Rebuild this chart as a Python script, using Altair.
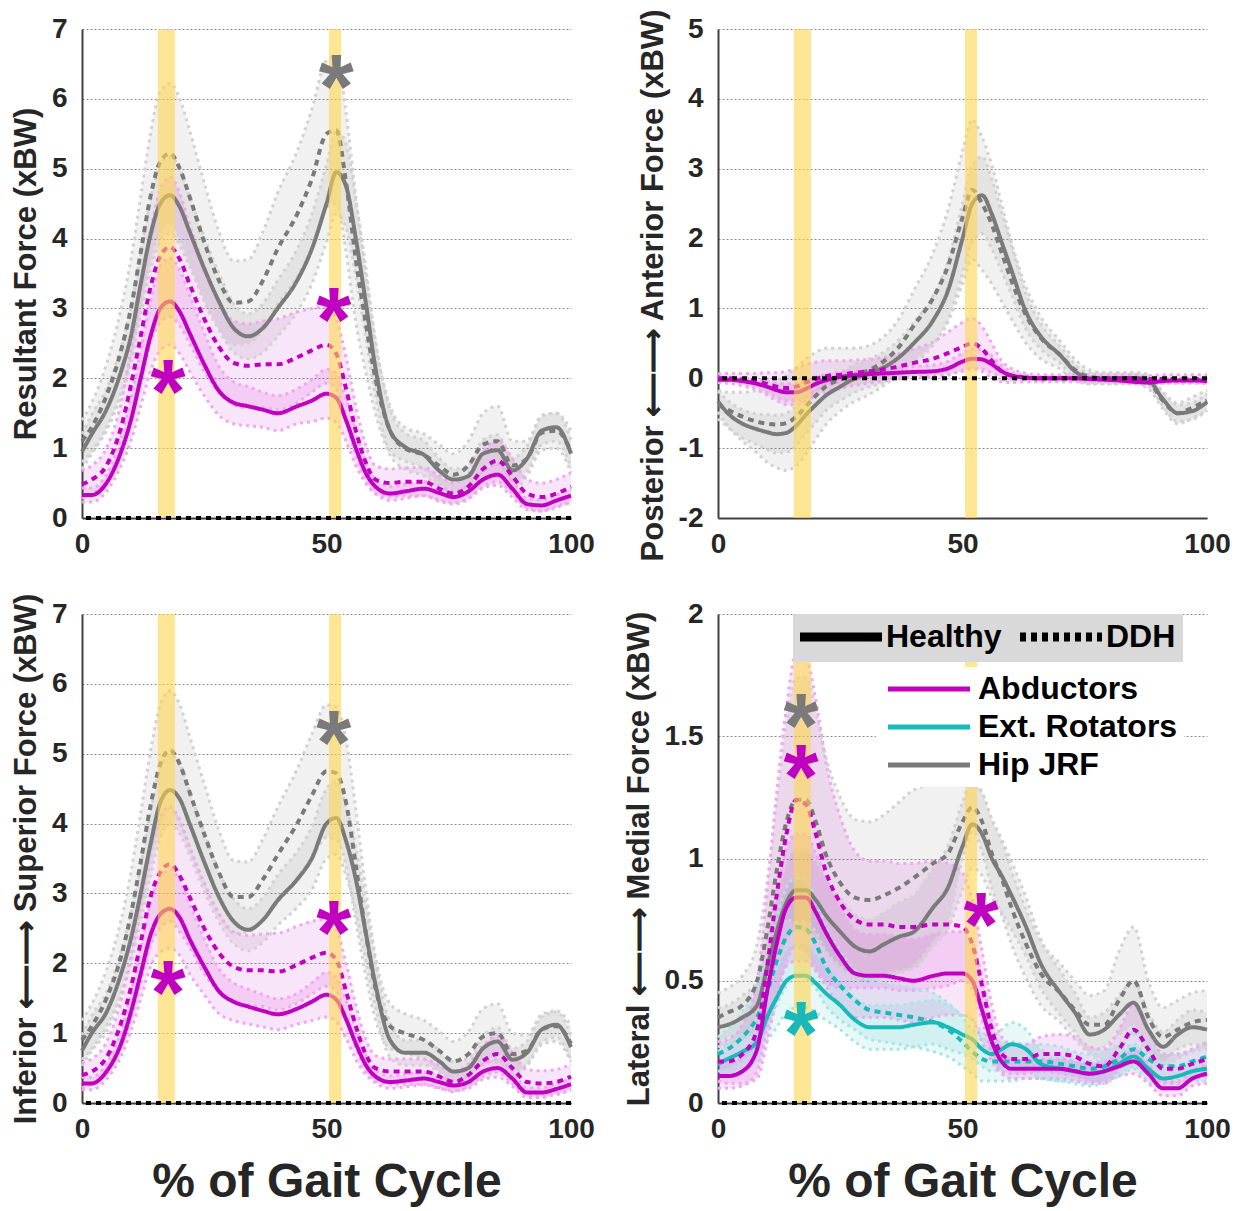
import altair as alt
import pandas as pd

FONT = "Liberation Sans"

# common % gait-cycle grid
X = [0, 2, 5, 8, 10, 12, 14, 16, 18, 20, 22, 25, 28, 31, 34, 37, 40, 44, 47, 50,
     52, 54, 56, 58, 60, 63, 66, 70, 73, 76, 79, 82, 85, 88, 91, 94, 97, 100]

MUSCLES = ["Abductors", "Ext. Rotators", "Hip JRF"]
GROUPS = ["Healthy", "DDH"]
COLORS = ["#C000C0", "#19B9B9", "#7A7A7A"]
LIGHT = ["#F0A8F0", "#A8E6E6", "#D2D2D2"]

# ---------------- Resultant ----------------
RES_HIP_H = [0.95, 1.2, 1.55, 2.1, 2.6, 3.35, 4.05, 4.5, 4.62, 4.45, 4.1, 3.57, 3.1, 2.72, 2.6, 2.72, 3.0, 3.4, 3.85, 4.5,
             4.95, 4.75, 4.0, 3.1, 2.15, 1.25, 1.02, 0.9, 0.68, 0.55, 0.6, 0.92, 0.97, 0.68, 0.85, 1.25, 1.3, 0.92]
RES_HIP_D = [1.1, 1.3, 1.75, 2.4, 3.0, 3.8, 4.6, 5.1, 5.22, 5.0, 4.6, 3.95, 3.4, 3.08, 3.1, 3.4, 3.85, 4.35, 4.85, 5.5,
             5.55, 4.8, 3.7, 2.8, 2.0, 1.25, 1.0, 0.9, 0.75, 0.62, 0.75, 1.05, 1.1, 0.75, 0.85, 1.22, 1.25, 0.95]
RES_ABD_H = [0.33, 0.33, 0.5, 0.95, 1.4, 2.0, 2.6, 3.0, 3.1, 2.95, 2.65, 2.2, 1.82, 1.65, 1.6, 1.55, 1.5, 1.6, 1.68, 1.78,
             1.72, 1.4, 1.0, 0.65, 0.45, 0.35, 0.38, 0.42, 0.36, 0.3, 0.38, 0.55, 0.62, 0.42, 0.2, 0.18, 0.25, 0.32]
RES_ABD_D = [0.48, 0.55, 0.75, 1.3, 1.9, 2.6, 3.3, 3.75, 3.88, 3.7, 3.35, 2.85, 2.45, 2.22, 2.18, 2.2, 2.2, 2.3, 2.4, 2.48,
             2.35, 1.85, 1.25, 0.8, 0.55, 0.5, 0.52, 0.52, 0.42, 0.35, 0.45, 0.7, 0.82, 0.6, 0.35, 0.3, 0.35, 0.45]
RES_HIP_H_SD = [0.25, 0.28, 0.3, 0.35, 0.4, 0.45, 0.5, 0.55, 0.55, 0.55, 0.5, 0.45, 0.4, 0.35, 0.32, 0.35, 0.4, 0.45, 0.5, 0.55,
                0.6, 0.6, 0.55, 0.5, 0.4, 0.3, 0.2, 0.2, 0.18, 0.15, 0.15, 0.2, 0.22, 0.18, 0.18, 0.2, 0.2, 0.2]
RES_HIP_D_SD = [0.3, 0.35, 0.45, 0.6, 0.7, 0.8, 0.9, 1.0, 1.0, 1.0, 0.95, 0.85, 0.7, 0.6, 0.6, 0.7, 0.8, 0.9, 1.0, 1.05,
                1.05, 1.0, 0.9, 0.7, 0.5, 0.35, 0.3, 0.3, 0.3, 0.3, 0.35, 0.45, 0.5, 0.35, 0.25, 0.25, 0.25, 0.3]
RES_ABD_H_SD = [0.1, 0.1, 0.12, 0.2, 0.3, 0.4, 0.5, 0.6, 0.62, 0.6, 0.55, 0.45, 0.35, 0.3, 0.28, 0.25, 0.25, 0.25, 0.3, 0.35,
                0.35, 0.3, 0.25, 0.15, 0.1, 0.1, 0.1, 0.1, 0.1, 0.08, 0.1, 0.12, 0.15, 0.12, 0.08, 0.08, 0.08, 0.1]
RES_ABD_D_SD = [0.2, 0.2, 0.25, 0.35, 0.5, 0.65, 0.8, 0.95, 1.0, 0.95, 0.85, 0.75, 0.65, 0.6, 0.6, 0.62, 0.65, 0.65, 0.6, 0.55,
                0.5, 0.45, 0.35, 0.25, 0.2, 0.2, 0.2, 0.2, 0.18, 0.15, 0.18, 0.25, 0.3, 0.25, 0.2, 0.2, 0.2, 0.2]

# ---------------- Posterior / Anterior ----------------
AP_HIP_H = [-0.33, -0.5, -0.65, -0.73, -0.77, -0.8, -0.78, -0.68, -0.52, -0.38, -0.25, -0.12, 0.0, 0.08, 0.16, 0.3, 0.5, 0.83, 1.25, 2.0,
            2.5, 2.62, 2.35, 1.95, 1.55, 0.95, 0.6, 0.33, 0.1, 0.0, 0.0, 0.0, 0.0, -0.03, -0.3, -0.5, -0.47, -0.34]
AP_HIP_D = [-0.38, -0.45, -0.55, -0.62, -0.65, -0.66, -0.64, -0.55, -0.4, -0.25, -0.12, -0.02, 0.05, 0.12, 0.25, 0.45, 0.75, 1.15, 1.6, 2.3,
            2.7, 2.5, 2.2, 1.8, 1.4, 0.9, 0.58, 0.33, 0.12, 0.02, 0.0, 0.0, 0.0, -0.05, -0.32, -0.5, -0.42, -0.32]
AP_ABD_H = [-0.02, -0.02, -0.04, -0.08, -0.12, -0.17, -0.2, -0.2, -0.15, -0.08, -0.03, 0.02, 0.04, 0.06, 0.07, 0.08, 0.09, 0.1, 0.14, 0.24,
            0.28, 0.27, 0.2, 0.1, 0.04, 0.01, 0.0, 0.0, 0.0, -0.01, -0.02, -0.03, -0.05, -0.06, -0.04, -0.03, -0.03, -0.04]
AP_ABD_D = [0.0, 0.0, -0.02, -0.05, -0.08, -0.12, -0.14, -0.12, -0.06, -0.01, 0.03, 0.05, 0.08, 0.1, 0.13, 0.17, 0.22, 0.28, 0.36, 0.45,
            0.5, 0.42, 0.25, 0.1, 0.04, 0.01, 0.0, 0.0, 0.0, 0.0, 0.0, 0.0, 0.0, -0.01, -0.01, -0.01, -0.01, -0.01]
AP_HIP_H_SD = [0.15, 0.18, 0.2, 0.22, 0.25, 0.27, 0.28, 0.28, 0.27, 0.25, 0.22, 0.2, 0.2, 0.2, 0.22, 0.25, 0.3, 0.35, 0.42, 0.5,
               0.55, 0.55, 0.5, 0.42, 0.35, 0.25, 0.18, 0.12, 0.1, 0.08, 0.08, 0.08, 0.08, 0.08, 0.1, 0.12, 0.12, 0.12]
AP_HIP_D_SD = [0.2, 0.25, 0.35, 0.45, 0.55, 0.62, 0.68, 0.7, 0.68, 0.62, 0.55, 0.45, 0.38, 0.35, 0.35, 0.4, 0.5, 0.65, 0.8, 0.95,
               1.0, 0.95, 0.85, 0.7, 0.55, 0.4, 0.3, 0.2, 0.15, 0.1, 0.08, 0.08, 0.08, 0.1, 0.12, 0.15, 0.15, 0.15]
AP_ABD_H_SD = [0.03, 0.03, 0.04, 0.06, 0.08, 0.1, 0.12, 0.12, 0.12, 0.1, 0.08, 0.07, 0.06, 0.06, 0.06, 0.07, 0.08, 0.09, 0.1, 0.12,
               0.14, 0.14, 0.12, 0.08, 0.05, 0.03, 0.02, 0.02, 0.02, 0.02, 0.02, 0.03, 0.03, 0.03, 0.03, 0.03, 0.03, 0.03]
AP_ABD_D_SD = [0.06, 0.07, 0.09, 0.12, 0.16, 0.2, 0.24, 0.26, 0.26, 0.24, 0.22, 0.2, 0.18, 0.17, 0.17, 0.18, 0.2, 0.24, 0.3, 0.35,
               0.36, 0.32, 0.25, 0.15, 0.1, 0.06, 0.05, 0.05, 0.05, 0.05, 0.05, 0.05, 0.05, 0.05, 0.06, 0.06, 0.06, 0.06]

# ---------------- Inferior / Superior ----------------
SI_HIP_H = [0.75, 1.0, 1.3, 1.85, 2.35, 3.0, 3.7, 4.3, 4.48, 4.35, 4.0, 3.45, 2.95, 2.6, 2.48, 2.62, 2.9, 3.2, 3.5, 4.0,
            4.08, 3.75, 3.2, 2.45, 1.7, 0.9, 0.72, 0.72, 0.6, 0.45, 0.5, 0.78, 0.88, 0.62, 0.72, 1.05, 1.12, 0.8]
SI_HIP_D = [0.9, 1.1, 1.5, 2.1, 2.7, 3.45, 4.25, 4.85, 5.05, 4.85, 4.45, 3.85, 3.3, 2.95, 2.95, 3.2, 3.55, 4.0, 4.4, 4.75,
            4.72, 4.3, 3.4, 2.45, 1.65, 1.1, 1.0, 0.9, 0.75, 0.6, 0.7, 0.95, 1.0, 0.7, 0.75, 1.05, 1.1, 0.85]
SI_ABD_H = [0.28, 0.28, 0.45, 0.85, 1.3, 1.85, 2.4, 2.7, 2.78, 2.65, 2.35, 1.95, 1.6, 1.45, 1.38, 1.32, 1.27, 1.35, 1.45, 1.55,
            1.48, 1.2, 0.85, 0.55, 0.38, 0.3, 0.32, 0.35, 0.3, 0.25, 0.3, 0.45, 0.5, 0.35, 0.15, 0.15, 0.2, 0.27]
SI_ABD_D = [0.4, 0.45, 0.65, 1.15, 1.65, 2.3, 2.95, 3.3, 3.42, 3.25, 2.95, 2.5, 2.15, 1.95, 1.9, 1.9, 1.88, 1.98, 2.08, 2.15,
            2.05, 1.6, 1.1, 0.7, 0.5, 0.45, 0.45, 0.45, 0.38, 0.3, 0.4, 0.6, 0.7, 0.5, 0.3, 0.28, 0.3, 0.38]
SI_HIP_H_SD = [0.22, 0.25, 0.28, 0.32, 0.36, 0.4, 0.45, 0.5, 0.5, 0.5, 0.46, 0.42, 0.36, 0.32, 0.3, 0.32, 0.36, 0.4, 0.45, 0.5,
               0.52, 0.5, 0.46, 0.4, 0.32, 0.25, 0.18, 0.18, 0.16, 0.14, 0.14, 0.18, 0.2, 0.16, 0.16, 0.18, 0.18, 0.18]
SI_HIP_D_SD = [0.28, 0.32, 0.4, 0.52, 0.6, 0.7, 0.78, 0.85, 0.85, 0.85, 0.8, 0.72, 0.6, 0.52, 0.5, 0.58, 0.68, 0.78, 0.88, 0.95,
               0.95, 0.9, 0.8, 0.62, 0.45, 0.32, 0.28, 0.28, 0.28, 0.28, 0.32, 0.4, 0.42, 0.3, 0.22, 0.22, 0.22, 0.26]
SI_ABD_H_SD = [0.09, 0.09, 0.11, 0.18, 0.27, 0.36, 0.45, 0.54, 0.56, 0.54, 0.5, 0.4, 0.32, 0.27, 0.25, 0.23, 0.22, 0.22, 0.27, 0.32,
               0.32, 0.27, 0.22, 0.14, 0.09, 0.09, 0.09, 0.09, 0.09, 0.07, 0.09, 0.11, 0.13, 0.11, 0.07, 0.07, 0.07, 0.09]
SI_ABD_D_SD = [0.18, 0.18, 0.22, 0.32, 0.45, 0.58, 0.7, 0.8, 0.82, 0.8, 0.72, 0.65, 0.56, 0.5, 0.5, 0.52, 0.55, 0.55, 0.52, 0.48,
               0.44, 0.4, 0.3, 0.22, 0.18, 0.18, 0.18, 0.18, 0.16, 0.14, 0.16, 0.22, 0.26, 0.22, 0.18, 0.18, 0.18, 0.18]

# ---------------- Lateral / Medial ----------------
ML_HIP_H = [0.31, 0.32, 0.35, 0.4, 0.55, 0.7, 0.82, 0.87, 0.87, 0.83, 0.77, 0.7, 0.64, 0.62, 0.65, 0.68, 0.7, 0.8, 0.88, 1.05,
            1.14, 1.1, 1.0, 0.93, 0.85, 0.72, 0.57, 0.45, 0.37, 0.28, 0.3, 0.36, 0.41, 0.3, 0.23, 0.28, 0.31, 0.3]
ML_HIP_D = [0.35, 0.37, 0.4, 0.5, 0.7, 0.95, 1.15, 1.24, 1.24, 1.15, 1.02, 0.9, 0.84, 0.83, 0.85, 0.88, 0.92, 0.98, 1.02, 1.15,
            1.21, 1.15, 1.02, 0.92, 0.8, 0.65, 0.53, 0.45, 0.38, 0.32, 0.32, 0.42, 0.5, 0.35, 0.27, 0.3, 0.33, 0.34]
ML_ABD_H = [0.11, 0.11, 0.13, 0.22, 0.45, 0.65, 0.8, 0.84, 0.84, 0.78, 0.7, 0.6, 0.53, 0.52, 0.52, 0.51, 0.5, 0.52, 0.53, 0.53,
            0.5, 0.38, 0.25, 0.17, 0.14, 0.14, 0.14, 0.14, 0.13, 0.12, 0.13, 0.15, 0.17, 0.12, 0.06, 0.06, 0.1, 0.12]
ML_ABD_D = [0.17, 0.17, 0.2, 0.3, 0.55, 0.85, 1.1, 1.24, 1.22, 1.1, 0.95, 0.82, 0.75, 0.73, 0.73, 0.72, 0.72, 0.73, 0.73, 0.72,
            0.65, 0.48, 0.3, 0.2, 0.18, 0.18, 0.2, 0.2, 0.19, 0.16, 0.15, 0.22, 0.3, 0.22, 0.14, 0.14, 0.16, 0.18]
ML_ER_H = [0.16, 0.18, 0.21, 0.25, 0.35, 0.43, 0.5, 0.52, 0.52, 0.49, 0.45, 0.4, 0.34, 0.31, 0.31, 0.31, 0.32, 0.33, 0.31, 0.28,
           0.26, 0.22, 0.2, 0.22, 0.24, 0.22, 0.16, 0.14, 0.13, 0.12, 0.13, 0.16, 0.19, 0.14, 0.1, 0.11, 0.13, 0.14]
ML_ER_D = [0.2, 0.22, 0.27, 0.35, 0.45, 0.58, 0.68, 0.72, 0.71, 0.65, 0.56, 0.48, 0.42, 0.38, 0.37, 0.36, 0.35, 0.33, 0.3, 0.25,
           0.21, 0.18, 0.17, 0.17, 0.17, 0.17, 0.17, 0.16, 0.15, 0.14, 0.15, 0.18, 0.22, 0.18, 0.15, 0.15, 0.17, 0.19]
ML_HIP_H_SD = [0.08, 0.08, 0.09, 0.1, 0.12, 0.14, 0.16, 0.17, 0.17, 0.16, 0.15, 0.14, 0.13, 0.13, 0.13, 0.14, 0.15, 0.16, 0.17, 0.18,
               0.18, 0.17, 0.16, 0.15, 0.14, 0.12, 0.1, 0.09, 0.08, 0.07, 0.07, 0.08, 0.09, 0.07, 0.06, 0.06, 0.07, 0.07]
ML_HIP_D_SD = [0.1, 0.1, 0.12, 0.15, 0.2, 0.28, 0.4, 0.5, 0.5, 0.45, 0.4, 0.35, 0.32, 0.32, 0.33, 0.35, 0.36, 0.32, 0.28, 0.15,
               0.1, 0.12, 0.14, 0.15, 0.15, 0.14, 0.13, 0.12, 0.12, 0.12, 0.14, 0.2, 0.22, 0.15, 0.12, 0.12, 0.12, 0.12]
ML_ABD_H_SD = [0.05, 0.05, 0.06, 0.09, 0.14, 0.2, 0.24, 0.26, 0.26, 0.24, 0.22, 0.2, 0.18, 0.17, 0.17, 0.17, 0.17, 0.17, 0.17, 0.17,
               0.16, 0.13, 0.08, 0.05, 0.04, 0.04, 0.04, 0.04, 0.04, 0.04, 0.04, 0.04, 0.05, 0.04, 0.03, 0.03, 0.03, 0.04]
ML_ABD_D_SD = [0.08, 0.09, 0.12, 0.2, 0.3, 0.42, 0.52, 0.6, 0.6, 0.55, 0.45, 0.35, 0.28, 0.26, 0.26, 0.26, 0.26, 0.26, 0.25, 0.22,
               0.18, 0.14, 0.1, 0.07, 0.06, 0.06, 0.07, 0.08, 0.08, 0.07, 0.07, 0.08, 0.1, 0.08, 0.06, 0.06, 0.06, 0.07]
ML_ER_H_SD = [0.05, 0.06, 0.07, 0.08, 0.1, 0.12, 0.13, 0.13, 0.13, 0.12, 0.11, 0.1, 0.09, 0.09, 0.09, 0.09, 0.09, 0.09, 0.09, 0.08,
              0.08, 0.07, 0.07, 0.08, 0.09, 0.08, 0.06, 0.05, 0.05, 0.05, 0.05, 0.05, 0.05, 0.05, 0.04, 0.04, 0.04, 0.05]
ML_ER_D_SD = [0.07, 0.08, 0.1, 0.12, 0.15, 0.18, 0.2, 0.2, 0.2, 0.18, 0.16, 0.14, 0.12, 0.12, 0.12, 0.12, 0.12, 0.12, 0.11, 0.1,
              0.09, 0.09, 0.08, 0.08, 0.08, 0.07, 0.07, 0.07, 0.06, 0.06, 0.06, 0.06, 0.07, 0.06, 0.05, 0.05, 0.05, 0.06]

# yellow highlighted phases (% gait)
PHASE_START = [15.5, 50.5]
PHASE_END = [19.0, 53.0]

# significance asterisks
RES_STAR_X = [52, 51.5, 17.6]
RES_STAR_Y = [6.37, 3.03, 2.0]
RES_STAR_M = ["Hip JRF", "Abductors", "Abductors"]
SI_STAR_X = [51.5, 51.5, 17.6]
SI_STAR_Y = [5.35, 2.63, 1.77]
SI_STAR_M = ["Hip JRF", "Abductors", "Abductors"]
ML_STAR_X = [17.0, 17.0, 17.0, 53.8]
ML_STAR_Y = [1.6, 1.39, 0.34, 0.785]
ML_STAR_M = ["Hip JRF", "Abductors", "Ext. Rotators", "Abductors"]

ARROW = "\u27f5\u27f6"

color_scale = alt.Scale(domain=MUSCLES, range=COLORS)
# band fills / edges / asterisks use their own (unlisted) scales, ordered differently
fill_scale = alt.Scale(domain=MUSCLES[::-1], range=COLORS[::-1])
stroke_scale = alt.Scale(domain=MUSCLES[::-1], range=LIGHT[::-1])
dash_scale = alt.Scale(domain=GROUPS, range=[[1, 0], [6, 5]])

LEG_PATH = "M-4.1,0H4.1"

dash_legend = alt.Legend(
    title=None, orient="none", legendX=711, legendY=585, direction="horizontal",
    fillColor="#D9D9D9", padding=7, symbolType=LEG_PATH, symbolSize=400, symbolOffset=25,
    symbolStrokeWidth=9, symbolStrokeColor="black", symbolOpacity=1,
    labelFont=FONT, labelFontSize=32, labelFontWeight="bold", labelColor="black",
    labelOffset=29, columnPadding=0, labelLimit=400)
color_legend = alt.Legend(
    title=None, orient="none", legendX=794, legendY=638, direction="vertical",
    fillColor="white", padding=6,
    symbolType=LEG_PATH, symbolSize=400, symbolOffset=31, symbolStrokeWidth=5, symbolOpacity=1,
    labelFont=FONT, labelFontSize=32, labelFontWeight="bold", labelColor="black",
    labelOffset=33, rowPadding=6, labelLimit=400)


def build(series):
    rows = []
    for m, g, mean, sd in series:
        assert len(mean) == len(X) and len(sd) == len(X), (m, g)
        for xi, mv, sv in zip(X, mean, sd):
            rows.append({"m": m, "g": g, "x": xi, "mean": mv, "lo": mv - sv, "hi": mv + sv})
    return pd.DataFrame(rows)


def panel(series, stars, ydomain, yticks, ytitle, xtitle, title_y=244.5):
    df = build(series)
    xaxis_kw = dict(values=[0, 50, 100], grid=False, ticks=False, domainColor="#404040", domainWidth=2,
                    labelFont=FONT, labelFontSize=28, labelFontWeight="bold", labelColor="#262626",
                    labelPadding=12, labelFlush=False)
    if xtitle:
        xaxis = alt.Axis(title="% of Gait Cycle", titleFont=FONT, titleFontSize=48, titleFontWeight="bold",
                         titleColor="#262626", titlePadding=15, **xaxis_kw)
    else:
        xaxis = alt.Axis(title=None, **xaxis_kw)
    yaxis = alt.Axis(title=ytitle, values=yticks, labelExpr="datum.value + ''", grid=True, gridDash=[2, 2],
                     gridColor="#8C8C8C", gridWidth=1, ticks=False, domainColor="#404040", domainWidth=2,
                     labelFont=FONT, labelFontSize=28, labelFontWeight="bold", labelColor="#262626",
                     labelPadding=15, labelFlush=False, titleFont=FONT, titleFontSize=31,
                     titleFontWeight="bold", titleColor="#262626", titlePadding=9, titleY=title_y)
    xs = alt.Scale(domain=[0, 100], nice=False, zero=False)
    ys = alt.Scale(domain=ydomain, nice=False, zero=False)

    def X_(f):
        return alt.X(f, type="quantitative", scale=xs, axis=xaxis)

    def Y_(f):
        return alt.Y(f, type="quantitative", scale=ys, axis=yaxis)

    base = alt.Chart(df)
    area = base.mark_area(fillOpacity=0.1, interpolate="monotone").encode(
        x=X_("x"), y=Y_("lo"), y2="hi",
        fill=alt.Fill("m:N", scale=fill_scale, legend=None), detail="g:N")
    edge_lo = base.mark_line(strokeDash=[3, 4], strokeWidth=3, interpolate="monotone").encode(
        x=X_("x"), y=Y_("lo"), stroke=alt.Stroke("m:N", scale=stroke_scale, legend=None), detail="g:N")
    edge_hi = base.mark_line(strokeDash=[3, 4], strokeWidth=3, interpolate="monotone").encode(
        x=X_("x"), y=Y_("hi"), stroke=alt.Stroke("m:N", scale=stroke_scale, legend=None), detail="g:N")
    mean = base.mark_line(strokeWidth=4, interpolate="monotone").encode(
        x=X_("x"), y=Y_("mean"),
        color=alt.Color("m:N", scale=color_scale, legend=color_legend),
        strokeDash=alt.StrokeDash("g:N", scale=dash_scale, legend=dash_legend))
    phases = alt.Chart(pd.DataFrame({"s": PHASE_START, "e": PHASE_END})).mark_rect(
        color="#FFD54F", opacity=0.6).encode(x=X_("s"), x2="e")
    zero = alt.Chart(pd.DataFrame({"z": [0]})).mark_rule(
        color="black", strokeDash=[5, 5], strokeWidth=4).encode(y=Y_("z"))
    layers = [area, edge_lo, edge_hi, mean, phases, zero]
    if stars is not None:
        sx, sy, sm = stars
        star = alt.Chart(pd.DataFrame({"sx": sx, "sy": sy, "m": sm})).mark_text(
            text="*", font=FONT, fontSize=90, fontWeight="bold", baseline="alphabetic", dy=45).encode(
            x=X_("sx"), y=Y_("sy"), fill=alt.Fill("m:N", scale=fill_scale, legend=None))
        layers.append(star)
    return alt.layer(*layers).properties(width=489, height=489)


p1 = panel([("Hip JRF", "Healthy", RES_HIP_H, RES_HIP_H_SD), ("Hip JRF", "DDH", RES_HIP_D, RES_HIP_D_SD),
            ("Abductors", "Healthy", RES_ABD_H, RES_ABD_H_SD), ("Abductors", "DDH", RES_ABD_D, RES_ABD_D_SD)],
           (RES_STAR_X, RES_STAR_Y, RES_STAR_M), [0, 7], list(range(0, 8)),
           "Resultant Force (xBW)", False)
p2 = panel([("Hip JRF", "Healthy", AP_HIP_H, AP_HIP_H_SD), ("Hip JRF", "DDH", AP_HIP_D, AP_HIP_D_SD),
            ("Abductors", "Healthy", AP_ABD_H, AP_ABD_H_SD), ("Abductors", "DDH", AP_ABD_D, AP_ABD_D_SD)],
           None, [-2, 5], list(range(-2, 6)),
           "Posterior " + ARROW + " Anterior Force (xBW)", False, title_y=256)
p3 = panel([("Hip JRF", "Healthy", SI_HIP_H, SI_HIP_H_SD), ("Hip JRF", "DDH", SI_HIP_D, SI_HIP_D_SD),
            ("Abductors", "Healthy", SI_ABD_H, SI_ABD_H_SD), ("Abductors", "DDH", SI_ABD_D, SI_ABD_D_SD)],
           (SI_STAR_X, SI_STAR_Y, SI_STAR_M), [0, 7], list(range(0, 8)),
           "Inferior " + ARROW + " Superior Force (xBW)", True)
p4 = panel([("Hip JRF", "Healthy", ML_HIP_H, ML_HIP_H_SD), ("Hip JRF", "DDH", ML_HIP_D, ML_HIP_D_SD),
            ("Ext. Rotators", "Healthy", ML_ER_H, ML_ER_H_SD), ("Ext. Rotators", "DDH", ML_ER_D, ML_ER_D_SD),
            ("Abductors", "Healthy", ML_ABD_H, ML_ABD_H_SD), ("Abductors", "DDH", ML_ABD_D, ML_ABD_D_SD)],
           (ML_STAR_X, ML_STAR_Y, ML_STAR_M), [0, 2], [0, 0.5, 1, 1.5, 2],
           "Lateral " + ARROW + " Medial Force (xBW)", True)

chart = alt.concat(
    p1, p2, p3, p4, columns=2, spacing={"row": 96, "column": 147}, bounds="flush"
).resolve_scale(
    x="independent", y="independent", color="shared", strokeDash="shared"
).configure_view(strokeWidth=0).properties(padding={"left": 2, "top": 0, "right": 5, "bottom": 5})

chart.save("out.html", embed_options={"renderer": "svg", "actions": False})
